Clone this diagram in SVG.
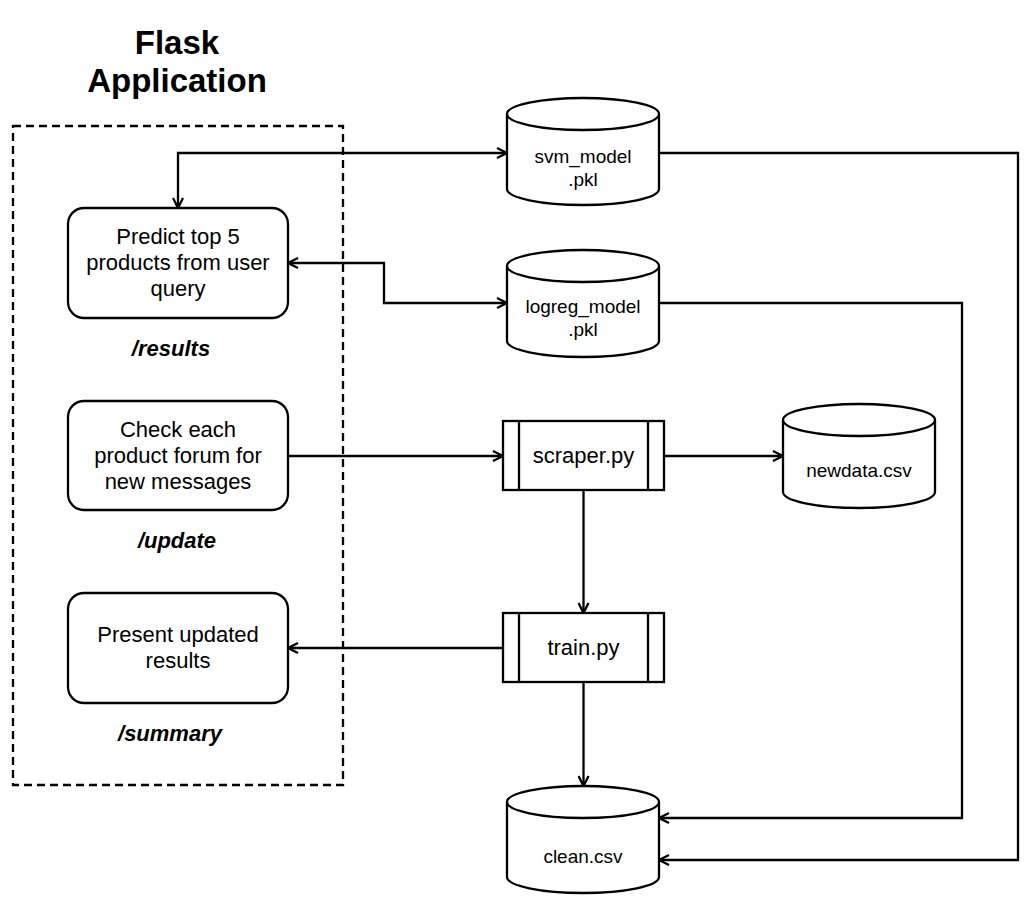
<svg xmlns="http://www.w3.org/2000/svg" width="1033" height="906" viewBox="0 0 1033 906">
<defs>
<marker id="arr" viewBox="0 0 12 12" refX="11" refY="6" markerWidth="12" markerHeight="12" markerUnits="userSpaceOnUse" orient="auto-start-reverse">
<path d="M1,1 L11,6 L1,11" fill="none" stroke="#000" stroke-width="2.3"/>
</marker>
<style>
.shape{fill:#fff;stroke:#000;stroke-width:2.3}
.line{fill:none;stroke:#000;stroke-width:2.3}
.t{font-family:"Liberation Sans",Arial,sans-serif;font-size:22px;fill:#000;text-anchor:middle}
.s{font-family:"Liberation Sans",Arial,sans-serif;font-size:19px;fill:#000;text-anchor:middle}
.r{font-family:"Liberation Sans",Arial,sans-serif;font-size:22px;font-weight:bold;font-style:italic;fill:#000;text-anchor:middle}
.title{font-family:"Liberation Sans",Arial,sans-serif;font-size:33px;font-weight:bold;fill:#000;text-anchor:middle}
</style>
</defs>
<rect width="1033" height="906" fill="#fff"/>

<g id="flask-app">
<rect x="13" y="126" width="330" height="659" fill="none" stroke="#000" stroke-width="2.3" stroke-dasharray="8 5"/>
<text class="title" x="177" y="54">Flask</text>
<text class="title" x="177" y="92">Application</text>
</g>

<g id="connectors">
<path class="line" d="M507,153 H178 V208" marker-start="url(#arr)" marker-end="url(#arr)"/>
<path class="line" d="M288,263 H384 V303 H507" marker-start="url(#arr)" marker-end="url(#arr)"/>
<path class="line" d="M288,456 H503" marker-end="url(#arr)"/>
<path class="line" d="M664,456 H783" marker-end="url(#arr)"/>
<path class="line" d="M583.5,490 V613" marker-end="url(#arr)"/>
<path class="line" d="M503,648 H288" marker-end="url(#arr)"/>
<path class="line" d="M583.5,682 V786" marker-end="url(#arr)"/>
<path class="line" d="M659,303 H962 V818 H659" marker-end="url(#arr)"/>
<path class="line" d="M659,153 H1018 V860 H659" marker-end="url(#arr)"/>
</g>

<g id="predict">
<rect class="shape" x="68" y="208" width="220" height="110" rx="16"/>
<text class="t" x="178" y="244">Predict top 5</text>
<text class="t" x="178" y="270">products from user</text>
<text class="t" x="178" y="296">query</text>
</g>
<g id="route-results"><text class="r" x="171" y="356">/results</text></g>

<g id="check">
<rect class="shape" x="68" y="401" width="220" height="109" rx="16"/>
<text class="t" x="178" y="437">Check each</text>
<text class="t" x="178" y="463">product forum for</text>
<text class="t" x="178" y="489">new messages</text>
</g>
<g id="route-update"><text class="r" x="177" y="548">/update</text></g>

<g id="present">
<rect class="shape" x="68" y="593" width="220" height="110" rx="16"/>
<text class="t" x="178" y="642">Present updated</text>
<text class="t" x="178" y="668">results</text>
</g>
<g id="route-summary"><text class="r" x="170" y="741">/summary</text></g>

<g id="svm">
<path class="shape" d="M507,114 A76,16 0 0 1 659,114 V189 A76,16 0 0 1 507,189 Z"/>
<path class="line" d="M507,114 A76,16 0 0 0 659,114"/>
<text class="s" x="583" y="163">svm_model</text>
<text class="s" x="583" y="186">.pkl</text>
</g>

<g id="logreg">
<path class="shape" d="M507,266 A76,16 0 0 1 659,266 V341 A76,16 0 0 1 507,341 Z"/>
<path class="line" d="M507,266 A76,16 0 0 0 659,266"/>
<text class="s" x="583" y="313">logreg_model</text>
<text class="s" x="583" y="336">.pkl</text>
</g>

<g id="scraper">
<rect class="shape" x="503" y="421" width="161" height="69"/>
<path class="line" d="M519,421 V490 M648,421 V490"/>
<text class="t" x="583.5" y="463">scraper.py</text>
</g>

<g id="newdata">
<path class="shape" d="M783,420 A76,16 0 0 1 935,420 V492 A76,16 0 0 1 783,492 Z"/>
<path class="line" d="M783,420 A76,16 0 0 0 935,420"/>
<text class="s" x="859" y="477">newdata.csv</text>
</g>

<g id="train">
<rect class="shape" x="503" y="613" width="161" height="69"/>
<path class="line" d="M519,613 V682 M648,613 V682"/>
<text class="t" x="583.5" y="655">train.py</text>
</g>

<g id="clean">
<path class="shape" d="M507,802 A76,16 0 0 1 659,802 V877 A76,16 0 0 1 507,877 Z"/>
<path class="line" d="M507,802 A76,16 0 0 0 659,802"/>
<text class="s" x="583" y="863">clean.csv</text>
</g>
</svg>
